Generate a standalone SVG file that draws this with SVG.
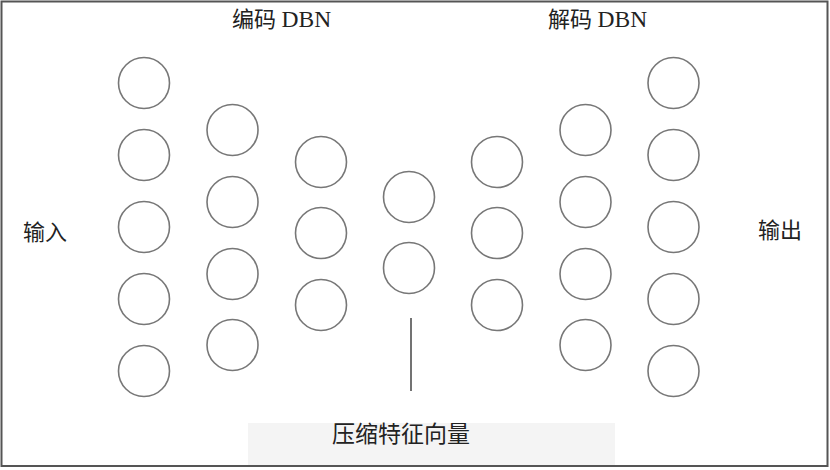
<svg xmlns="http://www.w3.org/2000/svg" width="830" height="470" viewBox="0 0 830 470">
<style>
.n{fill:#fff;stroke:#777;stroke-width:1.6}
.t{font-family:"Liberation Serif","Noto Sans CJK SC",serif;font-size:22px;fill:#222}
.d{font-size:23.5px}
</style>
<rect x="0" y="0" width="830" height="470" fill="#fff"/>
<rect x="248" y="423" width="367" height="44" fill="#f4f4f4"/>
<rect x="1.5" y="1.5" width="826" height="464.5" fill="none" stroke="#555" stroke-width="2"/>
<text class="t" x="232" y="27">编码 <tspan class="d">DBN</tspan></text>
<text class="t" x="548" y="27">解码 <tspan class="d">DBN</tspan></text>
<text class="t" x="23" y="240">输入</text>
<text class="t" x="758" y="238">输出</text>
<text class="t" x="332" y="442" style="font-size:23px">压缩特征向量</text>
<g id="connectors">
<line x1="411" y1="318" x2="411" y2="391" stroke="#444" stroke-width="1.5"/>
</g>
<g id="input-layer">
<circle class="n" cx="144" cy="83" r="25.5"/>
<circle class="n" cx="144" cy="155" r="25.5"/>
<circle class="n" cx="144" cy="227" r="25.5"/>
<circle class="n" cx="144" cy="299" r="25.5"/>
<circle class="n" cx="144" cy="371" r="25.5"/>
</g>
<g id="enc-hidden1">
<circle class="n" cx="232.5" cy="130" r="25.5"/>
<circle class="n" cx="232.5" cy="202" r="25.5"/>
<circle class="n" cx="232.5" cy="274" r="25.5"/>
<circle class="n" cx="232.5" cy="345" r="25.5"/>
</g>
<g id="enc-hidden2">
<circle class="n" cx="321" cy="162" r="25.5"/>
<circle class="n" cx="321" cy="233" r="25.5"/>
<circle class="n" cx="321" cy="305" r="25.5"/>
</g>
<g id="code-layer">
<circle class="n" cx="409" cy="197" r="25.5"/>
<circle class="n" cx="409" cy="268" r="25.5"/>
</g>
<g id="dec-hidden1">
<circle class="n" cx="497" cy="162" r="25.5"/>
<circle class="n" cx="497" cy="233" r="25.5"/>
<circle class="n" cx="497" cy="305" r="25.5"/>
</g>
<g id="dec-hidden2">
<circle class="n" cx="585.5" cy="130" r="25.5"/>
<circle class="n" cx="585.5" cy="202" r="25.5"/>
<circle class="n" cx="585.5" cy="274" r="25.5"/>
<circle class="n" cx="585.5" cy="345" r="25.5"/>
</g>
<g id="output-layer">
<circle class="n" cx="673.5" cy="83" r="25.5"/>
<circle class="n" cx="673.5" cy="155" r="25.5"/>
<circle class="n" cx="673.5" cy="227" r="25.5"/>
<circle class="n" cx="673.5" cy="299" r="25.5"/>
<circle class="n" cx="673.5" cy="371" r="25.5"/>
</g>
</svg>
